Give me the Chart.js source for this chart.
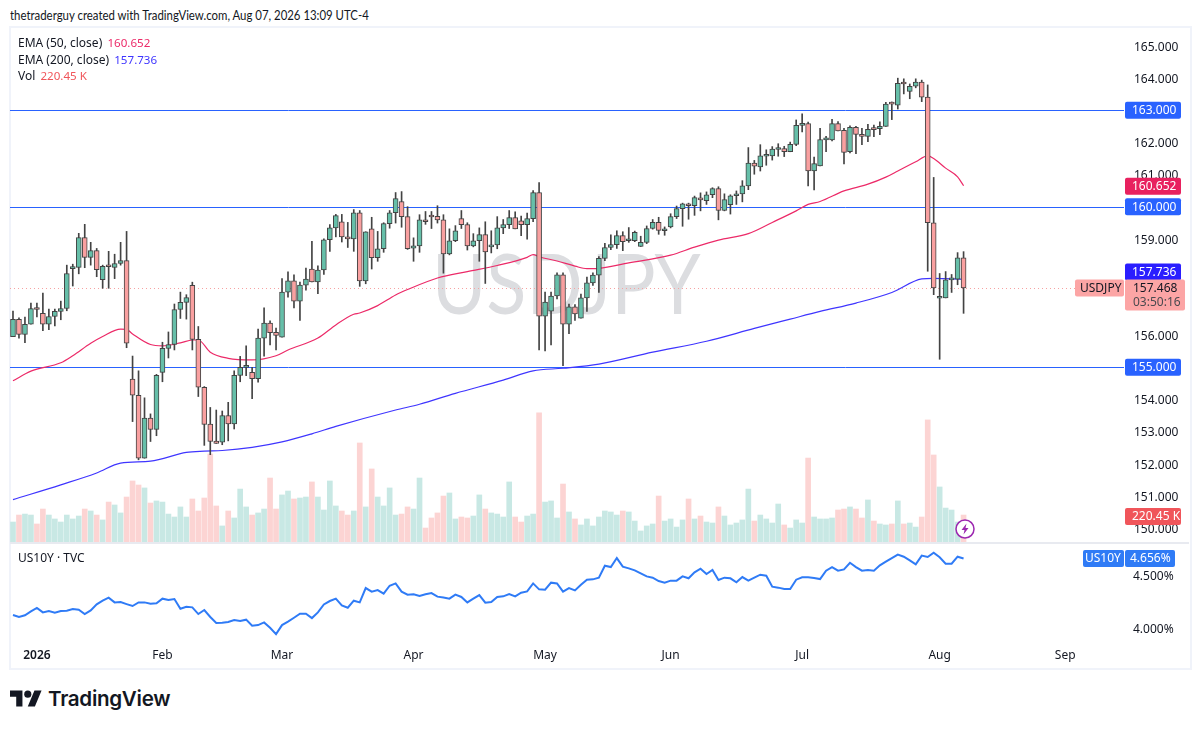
<!DOCTYPE html>
<html>
<head>
<meta charset="utf-8">
<title>USDJPY</title>
<script src="https://cdn.jsdelivr.net/npm/chart.js@4/dist/chart.umd.min.js"></script>
<style>
  html, body { margin: 0; padding: 0; background: #fff; width: 1200px; height: 729px; overflow: hidden; }
  body { position: relative; font-family: "Noto Sans", sans-serif; color: #131722; }
  .abs { position: absolute; white-space: nowrap; }
  canvas { position: absolute; left: 0; }
  #frame { left: 9px; top: 26px; width: 1179px; height: 640px; border: 2px solid #f0f3fa; }
  #sep { left: 10px; top: 542px; width: 1179px; height: 2px; background: #e8eaf0; }
  #watermark { left: 432px; top: 231px; font-family: "Lato", sans-serif; font-size: 84px; color: #dcdde0; transform: scaleX(0.88); transform-origin: left top; }
  .legend { font-size: 12px; left: 18px; line-height: 16px; }
  .legend span { margin-left: 2px; font-size: 11.6px; }
</style>
</head>
<body>
<div class="abs" style="left:10px;top:7px;font-family:Lato,sans-serif;font-size:12.6px;line-height:18px;transform:scaleX(0.905);transform-origin:left top">thetraderguy created with TradingView.com, Aug 07, 2026 13:09 UTC-4</div>
<div class="abs" id="frame"></div>
<div class="abs" id="watermark">USDJPY</div>
<canvas id="mainChart" width="1190" height="515" style="top:27px"></canvas>
<canvas id="yieldChart" width="1190" height="125" style="top:543px"></canvas>
<div class="abs" id="sep"></div>
<div class="abs legend" style="top:35px">EMA (50, close) <span style="color:#ec2a68">160.652</span></div>
<div class="abs legend" style="top:52px">EMA (200, close) <span style="color:#3f35ff">157.736</span></div>
<div class="abs legend" style="top:68px">Vol <span style="color:#f0555a">220.45 K</span></div>
<div class="abs legend" style="top:550px">US10Y · TVC</div>
<svg class="abs" style="left:955px;top:519px" width="20" height="20" viewBox="0 0 20 20">
  <circle cx="10" cy="10" r="9" fill="#fff" stroke="#9c27b0" stroke-width="1.5"/>
  <path d="M11.5 4.5 L6.5 11 H9.5 L8.5 15.5 L13.5 9 H10.5 Z" fill="#9c27b0"/>
</svg>
<svg class="abs" style="left:10px;top:687px" width="32" height="25" viewBox="0 0 36 28">
  <path d="M14 22H7V11H0V4h14v18zM28 22h-8l7.5-18h8L28 22z" fill="#131722"/>
  <circle cx="20" cy="8" r="4" fill="#131722"/>
</svg>
<div class="abs" style="left:48px;top:685px;font-family:Inter,sans-serif;font-weight:600;font-size:20.6px;line-height:28px;letter-spacing:-0.3px">TradingView</div>

<script>
// price candles
const opens = [155.95,156.49,156.02,156.34,156.83,156.68,156.34,156.58,156.74,156.83,158.07,158.11,159.04,158.42,158.63,157.73,158.15,158.11,158.23,158.32,
  154.63,154.13,152.17,153.42,153.07,154.84,155.59,155.71,156.80,157.02,157.55,155.87,154.38,153.23,152.70,152.67,153.50,153.24,154.75,155.00,
  154.84,154.65,155.91,156.38,156.09,155.94,157.34,157.69,157.06,157.56,158.06,157.66,158.03,158.97,159.34,159.53,159.06,159.00,159.81,157.69,
  159.31,158.41,158.69,159.47,159.81,160.16,159.69,158.71,158.78,159.59,159.70,159.70,159.59,158.53,158.94,159.63,159.44,158.78,158.94,159.13,
  158.75,158.81,159.34,159.44,159.66,159.56,159.44,159.63,160.44,156.59,156.75,157.22,157.88,156.34,156.88,156.53,157.16,157.63,157.87,158.39,
  158.73,158.82,159.10,158.94,158.94,158.76,158.89,159.32,159.51,159.25,159.37,159.69,159.94,160.09,160.03,160.23,160.19,160.37,160.56,159.88,
  160.06,160.34,160.40,160.65,161.36,161.24,161.57,161.58,161.78,161.81,161.71,161.94,162.53,162.59,161.11,161.27,162.08,162.08,162.59,162.38,
  161.71,162.47,162.25,162.19,162.42,162.43,162.50,163.21,163.16,163.84,163.59,163.75,163.88,163.41,159.50,157.15,157.16,157.72,157.74,158.41];
const highs = [156.75,156.54,156.56,157.00,157.00,157.31,156.81,156.81,157.06,158.18,158.21,159.17,159.45,158.89,158.70,158.18,158.61,158.52,158.89,159.23,
  155.35,154.89,154.05,153.55,154.78,155.78,156.10,156.97,157.34,157.26,157.65,156.27,154.40,153.75,153.67,153.64,153.91,154.89,155.34,155.67,
  155.00,156.19,156.85,156.45,156.22,157.76,157.97,157.88,157.65,158.09,158.92,158.16,159.00,159.44,159.76,159.76,159.51,159.91,159.88,159.22,
  159.67,159.23,159.50,159.88,160.44,160.47,160.00,159.03,159.75,159.85,159.85,160.03,159.75,159.31,159.41,159.88,159.50,159.16,159.34,159.53,
  159.25,159.69,159.60,159.88,159.84,159.71,159.80,160.50,160.75,157.34,157.34,157.94,157.94,156.97,156.95,157.28,157.81,157.94,158.45,158.86,
  159.12,159.25,159.22,159.35,159.24,159.08,159.40,159.60,159.67,159.37,159.78,160.02,160.11,160.11,160.33,160.43,160.46,160.59,160.62,160.40,
  160.37,160.49,160.81,161.84,161.44,161.93,161.77,161.87,161.96,161.88,162.01,162.70,162.89,162.63,161.54,162.44,162.19,162.72,162.65,162.44,
  162.52,162.50,162.44,162.56,162.54,162.64,163.25,163.26,164.00,163.98,163.82,163.98,163.94,163.79,160.91,157.92,157.98,157.89,158.57,158.60];
const lows = [155.95,155.91,155.77,156.34,156.57,156.14,156.17,156.29,156.48,156.76,157.53,157.91,158.10,158.18,157.82,157.46,157.46,157.76,158.18,155.61,
  153.31,152.12,152.17,152.69,152.87,154.55,155.29,155.54,156.52,156.50,155.54,154.09,152.57,152.28,152.63,152.59,152.71,153.08,154.55,154.74,
  154.02,154.54,155.35,155.70,155.54,155.94,157.18,156.85,156.46,157.40,157.66,157.29,157.89,158.61,159.06,158.90,158.73,158.61,157.52,157.60,
  158.06,158.30,158.58,159.33,159.49,159.36,158.67,158.30,158.58,159.45,159.32,159.49,157.93,158.50,158.91,159.32,158.65,158.75,158.30,157.61,
  158.56,158.69,159.16,159.32,159.31,159.10,158.99,159.53,155.54,155.51,155.70,157.13,155.05,156.05,156.46,156.53,156.74,157.55,157.33,158.32,
  158.66,158.70,158.63,158.89,158.91,158.76,158.85,159.30,159.14,159.11,159.34,159.63,159.39,159.61,159.73,159.87,160.07,160.28,159.59,159.87,
  159.77,160.07,160.15,160.53,161.01,161.11,161.29,161.45,161.57,161.56,161.71,161.90,162.33,160.65,160.52,161.27,161.71,162.05,162.36,161.33,
  161.67,161.65,161.93,162.02,162.18,162.24,162.50,162.71,163.04,163.51,163.36,163.70,163.27,157.99,157.26,155.25,157.16,157.33,157.57,156.68];
const closes = [156.49,156.02,156.34,156.83,156.80,156.34,156.58,156.74,156.83,157.92,158.11,159.04,158.42,158.63,158.04,158.14,158.13,158.23,158.32,155.75,
  154.13,152.17,153.42,153.07,154.75,155.59,155.71,156.80,157.02,157.17,155.87,154.38,153.22,152.69,152.63,153.50,153.24,154.75,155.00,155.03,
  154.65,155.91,156.38,156.08,155.99,157.34,157.69,157.06,157.56,157.75,157.66,158.03,158.97,159.34,159.72,159.06,159.00,159.81,157.69,159.22,
  158.41,158.69,159.47,159.81,160.25,159.69,158.69,158.78,159.59,159.53,159.68,159.59,158.53,158.94,159.25,159.44,158.78,158.94,159.13,158.59,
  158.81,159.34,159.44,159.66,159.31,159.44,159.63,160.44,156.59,157.03,157.22,157.88,156.34,156.88,156.66,157.16,157.63,157.87,158.39,158.73,
  158.82,159.10,158.91,158.96,159.20,158.89,159.32,159.51,159.26,159.27,159.69,159.94,160.09,160.03,160.28,160.21,160.37,160.56,159.88,160.22,
  160.34,160.40,160.65,161.36,161.26,161.58,161.59,161.79,161.80,161.71,161.94,162.53,162.59,161.11,161.34,162.09,162.10,162.59,162.36,161.69,
  162.47,162.25,162.19,162.41,162.40,162.50,163.19,163.19,163.84,163.82,163.75,163.88,163.41,159.50,157.47,157.17,157.72,157.74,158.41,157.468];
const volumes = [163,220,228,220,147,269,220,188,163,220,188,212,269,253,220,180,326,302,237,367,
  498,465,441,318,335,326,228,204,286,204,351,253,359,718,294,131,253,196,432,286,
  220,237,269,522,269,384,416,351,359,367,490,367,261,498,294,253,220,253,808,286,
  596,367,294,441,220,228,286,269,522,114,196,237,375,400,188,204,196,212,384,269,
  237,228,204,490,204,163,212,228,1053,326,335,196,473,245,188,139,188,131,204,253,
  245,220,253,245,171,90,131,147,375,171,188,122,180,351,188,212,163,155,286,212,
  139,155,180,432,171,220,188,155,310,139,114,180,155,685,204,188,188,196,261,269,
  286,269,196,343,171,147,139,147,335,147,155,122,204,996,710,449,277,261,163,220];
const yieldValues = [4.123,4.104,4.120,4.157,4.189,4.148,4.160,4.145,4.160,4.164,4.179,4.173,4.132,4.167,4.223,4.258,4.286,4.242,4.245,4.226,
  4.208,4.242,4.242,4.230,4.233,4.277,4.264,4.274,4.182,4.201,4.195,4.132,4.170,4.104,4.047,4.050,4.057,4.075,4.066,4.079,
  4.022,4.028,4.053,4.003,3.943,4.028,4.060,4.097,4.135,4.135,4.094,4.148,4.223,4.255,4.277,4.214,4.192,4.258,4.242,4.377,
  4.343,4.358,4.324,4.399,4.421,4.343,4.315,4.318,4.302,4.318,4.330,4.296,4.289,4.277,4.315,4.293,4.242,4.277,4.311,4.239,
  4.245,4.293,4.299,4.321,4.299,4.333,4.346,4.421,4.365,4.362,4.428,4.421,4.343,4.377,4.355,4.409,4.456,4.459,4.475,4.588,
  4.575,4.660,4.579,4.563,4.544,4.516,4.487,4.475,4.443,4.428,4.447,4.447,4.487,4.469,4.525,4.560,4.509,4.547,4.453,4.475,
  4.469,4.431,4.481,4.447,4.475,4.503,4.494,4.390,4.381,4.368,4.368,4.456,4.478,4.478,4.472,4.462,4.541,4.575,4.541,4.553,
  4.616,4.575,4.541,4.547,4.541,4.591,4.626,4.660,4.692,4.673,4.638,4.601,4.683,4.670,4.711,4.667,4.607,4.607,4.673,4.656];

// EMA lines, read at the bars where the curve could be read
const ema50Bars = [0,3,8,10,13,15,18,19,20,23,25,28,30,31,33,36,40,44,46,51,54,57,58,61,64,66,71,76,81,86,87,88,91,94,96,98,103,110,114,118,123,127,131,133,135,139,143,146,148,151,153,154,156,158,159];
const ema50Vals = [154.58,154.88,155.14,155.36,155.75,155.96,156.19,156.18,156.04,155.71,155.67,155.76,155.85,155.85,155.47,155.28,155.23,155.36,155.54,155.91,156.32,156.65,156.69,156.92,157.25,157.42,157.78,157.98,158.17,158.42,158.51,158.44,158.31,158.15,158.07,158.08,158.25,158.49,158.74,158.96,159.16,159.51,159.87,160.07,160.16,160.49,160.70,160.92,161.11,161.40,161.58,161.50,161.20,160.93,160.652];
const ema200Bars = [0,8,14,18,23,29,32,35,40,45,50,54,64,68,74,82,87,92,98,107,116,124,130,135,141,147,152,154,159];
const ema200Vals = [150.88,151.34,151.71,152.02,152.08,152.35,152.39,152.41,152.51,152.68,152.93,153.16,153.67,153.85,154.19,154.60,154.89,154.97,155.10,155.47,155.81,156.21,156.50,156.74,157.00,157.33,157.75,157.77,157.736];

const levels = [163, 160, 155];
const priceTicks = [150,151,152,153,154,155,156,157,158,159,160,161,162,163,164,165];
const yieldTicks = [4.0, 4.5];
const monthBars = [4,25,45,67,89,110,132,155,176];
const monthNames = ['2026','Feb','Mar','Apr','May','Jun','Jul','Aug','Sep'];

// weekdays from the first visible bar to the right edge of the pane
const categories = [];
for (let d = new Date(Date.UTC(2025, 11, 29)); categories.length < 186; d.setUTCDate(d.getUTCDate() + 1)) {
  if (d.getUTCDay() !== 0 && d.getUTCDay() !== 6) categories.push(d.toISOString().slice(0, 10));
}

const FONT = '"Noto Sans", sans-serif';
const isUp = opens.map((o, i) => closes[i] >= o);

function sparse(bars, vals) {
  const out = new Array(160).fill(null);
  bars.forEach((b, i) => { out[b] = vals[i]; });
  return out;
}

function roundRect(ctx, x, y, w, h, color) {
  ctx.fillStyle = color;
  ctx.beginPath();
  ctx.roundRect(x, y, w, h, 2);
  ctx.fill();
}

function badge(ctx, y, text, color, textColor) {
  roundRect(ctx, 1125, y - 8.5, 56, 17, color);
  ctx.fillStyle = textColor || '#fff';
  ctx.font = '12px ' + FONT;
  ctx.textAlign = 'left';
  ctx.textBaseline = 'middle';
  ctx.fillText(text, 1132, y + 0.5);
}

// axes keep no room for half a label, the panes start right at the frame
function noPadding(s) {
  s.paddingTop = 0; s.paddingBottom = 0; s.paddingLeft = 0; s.paddingRight = 0;
}

// y tick text sits a bit high in this font, nudge it down
function nudgeLabels(s) {
  s.getPixelForTick = function (i) { return this.getPixelForValue(this.ticks[i].value) + 1.5; };
}

const levelLines = {
  id: 'levelLines',
  beforeDatasetsDraw(chart) {
    const { ctx, scales: { y }, chartArea: a } = chart;
    ctx.save();
    ctx.strokeStyle = '#2962ff';
    ctx.lineWidth = 1;
    levels.forEach(v => {
      const py = Math.round(y.getPixelForValue(v)) + 0.5;
      ctx.beginPath(); ctx.moveTo(a.left, py); ctx.lineTo(a.right + 2, py); ctx.stroke();
    });
    const py = Math.round(y.getPixelForValue(closes[159])) + 0.5;
    ctx.strokeStyle = '#f7a1a1';
    ctx.setLineDash([1, 3]);
    ctx.beginPath(); ctx.moveTo(a.left, py); ctx.lineTo(a.right, py); ctx.stroke();
    ctx.restore();
  },
  afterDraw(chart) {
    const { ctx, scales: { y, yVol } } = chart;
    ctx.save();
    badge(ctx, y.getPixelForValue(160.652) + 0.5, '160.652', '#e8215f');
    levels.forEach(v => badge(ctx, y.getPixelForValue(v), v.toFixed(3), '#2962ff'));
    // the last price box pushes this one up, same as on the reference
    badge(ctx, y.getPixelForValue(157.736) - 7.5, '157.736', '#2a1eff');
    badge(ctx, yVol.getPixelForValue(volumes[159]) + 1.5, '220.45 K', '#f0555a');
    // last price box with countdown
    const top = y.getPixelForValue(closes[159]) - 8.5;
    roundRect(ctx, 1125, top, 60, 31, '#fca5a5');
    roundRect(ctx, 1075, top, 49, 17, '#fca5a5');
    ctx.fillStyle = '#131722';
    ctx.font = '12px ' + FONT;
    ctx.textAlign = 'left';
    ctx.textBaseline = 'middle';
    ctx.fillText('USDJPY', 1080, top + 9);
    ctx.fillText(closes[159].toFixed(3), 1133, top + 9);
    ctx.fillStyle = '#4a4a4f';
    ctx.fillText('03:50:16', 1133, top + 23);
    ctx.restore();
  }
};

new Chart(document.getElementById('mainChart'), {
  type: 'bar',
  plugins: [levelLines],
  data: {
    labels: categories,
    datasets: [
      { label: 'Vol', data: volumes, yAxisID: 'yVol', order: 6, grouped: false, barThickness: 5,
        backgroundColor: isUp.map(u => u ? '#c8e8e4' : '#fcd4d3') },
      { type: 'line', label: 'EMA 200', data: sparse(ema200Bars, ema200Vals), yAxisID: 'y', order: 5, spanGaps: true,
        cubicInterpolationMode: 'monotone', borderColor: '#3f35ff', borderWidth: 1.2, pointRadius: 0 },
      { type: 'line', label: 'EMA 50', data: sparse(ema50Bars, ema50Vals), yAxisID: 'y', order: 4, spanGaps: true,
        cubicInterpolationMode: 'monotone', borderColor: '#ec2a68', borderWidth: 1.2, pointRadius: 0 },
      { label: 'Wick', data: lows.map((l, i) => [l, highs[i]]), yAxisID: 'y', order: 3, grouped: false, barThickness: 1,
        backgroundColor: '#434343' },
      { label: 'Body', data: opens.map((o, i) => [o, closes[i]]), yAxisID: 'y', order: 2, grouped: false, barThickness: 5,
        minBarLength: 2, backgroundColor: isUp.map(u => u ? '#66bfa9' : '#f9a0a0'), borderColor: '#434343', borderWidth: 1, borderSkipped: false }
    ]
  },
  options: {
    responsive: false,
    animation: false,
    layout: { padding: { left: 10 } },
    plugins: { legend: { display: false }, tooltip: { enabled: false } },
    scales: {
      x: { display: false, offset: true },
      y: {
        position: 'right', min: 149.562, max: 165.593,
        grid: { display: false, drawTicks: false }, border: { display: false },
        afterBuildTicks(s) { s.ticks = priceTicks.map(v => ({ value: v })); nudgeLabels(s); },
        afterFit(s) { s.width = 68; noPadding(s); },
        ticks: { autoSkip: false, padding: 12, color: '#131722', font: { family: FONT, size: 12 }, callback: v => v.toFixed(3) }
      },
      yVol: { display: false, min: 0, max: 4202 }
    }
  }
});

const yieldBadges = {
  id: 'yieldBadges',
  afterDraw(chart) {
    const { ctx, scales: { y } } = chart;
    const py = y.getPixelForValue(yieldValues[159]);
    ctx.save();
    roundRect(ctx, 1083, py - 8.5, 41, 17, '#2f7bf6');
    roundRect(ctx, 1125, py - 8.5, 50, 17, '#2f7bf6');
    ctx.fillStyle = '#fff';
    ctx.font = '12px ' + FONT;
    ctx.textBaseline = 'middle';
    ctx.fillText('US10Y', 1085, py + 0.5);
    ctx.fillText(yieldValues[159].toFixed(3) + '%', 1130, py + 0.5);
    ctx.restore();
  }
};

new Chart(document.getElementById('yieldChart'), {
  type: 'line',
  plugins: [yieldBadges],
  data: {
    labels: categories,
    datasets: [{ label: 'US10Y', data: yieldValues, borderColor: '#2f7bf6', borderWidth: 2, pointRadius: 0 }]
  },
  options: {
    responsive: false,
    animation: false,
    layout: { padding: { left: 10 } },
    plugins: { legend: { display: false }, tooltip: { enabled: false } },
    scales: {
      x: {
        offset: true,
        grid: { display: false, drawTicks: false }, border: { display: false },
        afterBuildTicks(s) { s.ticks = monthBars.map(v => ({ value: v })); },
        afterFit(s) { s.height = 25; noPadding(s); },
        ticks: {
          autoSkip: false, maxRotation: 0, padding: 5, color: '#131722',
          font: c => ({ family: FONT, size: 12, weight: c.index === 0 ? '600' : '400' }),
          callback: v => monthNames[monthBars.indexOf(v)]
        }
      },
      y: {
        position: 'right', min: 3.859, max: 4.802,
        grid: { display: false, drawTicks: false }, border: { display: false },
        afterBuildTicks(s) { s.ticks = yieldTicks.map(v => ({ value: v })); nudgeLabels(s); },
        afterFit(s) { s.width = 68; noPadding(s); },
        ticks: { autoSkip: false, padding: 11, color: '#131722', font: { family: FONT, size: 12 }, callback: v => v.toFixed(3) + '%' }
      }
    }
  }
});
</script>
</body>
</html>
